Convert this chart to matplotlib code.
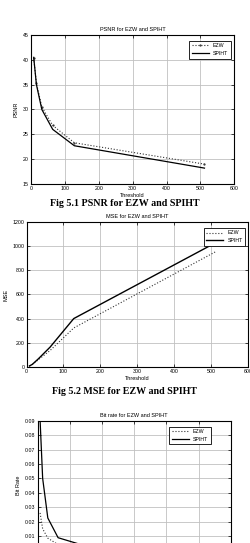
import matplotlib
matplotlib.use('Agg')
import matplotlib.pyplot as plt

plt.rcParams['font.family'] = ['Liberation Sans', 'DejaVu Sans']

W, H = 250, 543

thresholds = [8, 16, 32, 64, 128, 512]
psnr_ezw = [40.3, 35.3, 30.5, 26.8, 23.3, 19.0]
psnr_spiht = [40.5, 35.0, 30.0, 26.0, 22.7, 18.2]
mse_ezw = [6, 19, 58, 135, 322, 955]
mse_spiht = [6, 20, 65, 163, 400, 1030]
rate_ezw = [0.026, 0.015, 0.0085, 0.004, 0.002, 0.0005]
rate_spiht = [0.0905, 0.050, 0.0225, 0.0088, 0.0045, 0.0012]

x_ticks = [0, 100, 200, 300, 400, 500, 600]
psnr_ticks = [15, 20, 25, 30, 35, 40, 45]
mse_ticks = [0, 200, 400, 600, 800, 1000, 1200]
rate_ticks = [0, 0.01, 0.02, 0.03, 0.04, 0.05, 0.06, 0.07, 0.08, 0.09]
rate_labels = ['0'] + ['%.2f' % v for v in rate_ticks[1:]]


def px_axes(fig, left, top, right, bottom):
    # pixel box -> figure fraction
    return fig.add_axes([left / W, 1 - bottom / H, (right - left) / W, (bottom - top) / H])


def style(ax, title, ylabel, yticks, ylim, ylabels=None):
    ax.set_xlim(0, 600)
    ax.set_ylim(*ylim)
    ax.set_xticks(x_ticks)
    ax.set_yticks(yticks)
    if ylabels:
        ax.set_yticklabels(ylabels)
    ax.grid(True, color='#c0c0c0', lw=0.6)
    ax.tick_params(direction='in', top=True, right=True, labelsize=3.8,
                   length=2, width=0.5, pad=1.5)
    for s in ax.spines.values():
        s.set_linewidth(0.8)
    ax.set_title(title, fontsize=4, pad=3)
    ax.set_ylabel(ylabel, fontsize=4, labelpad=3)
    ax.set_xlabel('Threshold', fontsize=4, labelpad=1.5)


def add_legend(ax, anchor):
    leg = ax.legend(fontsize=3.8, loc='upper right', bbox_to_anchor=anchor,
                    handlelength=3.2, fancybox=False, framealpha=1,
                    borderpad=0.5, labelspacing=0.5, handletextpad=0.8)
    leg.get_frame().set_edgecolor('black')
    leg.get_frame().set_linewidth(0.6)


fig = plt.figure(figsize=(W / 100, H / 100), dpi=100)

# Fig 5.1 PSNR
ax1 = px_axes(fig, 31, 35, 234.3, 184)
ax1.plot(thresholds, psnr_ezw, ':', color='#333333', lw=0.8, marker='.', ms=1.2, label='EZW')
ax1.plot(thresholds, psnr_spiht, '-', color='black', lw=0.9, label='SPIHT')
style(ax1, 'PSNR for EZW and SPIHT', 'PSNR', psnr_ticks, (15, 45))
add_legend(ax1, (0.995, 0.98))
fig.text(0.5, 1 - 204 / H, 'Fig 5.1 PSNR for EZW and SPIHT', ha='center', va='center',
         family='Liberation Serif', weight='bold', fontsize=7.2)

# Fig 5.2 MSE
ax2 = px_axes(fig, 26.5, 222.3, 248, 366.7)
ax2.plot(thresholds, mse_ezw, ':', color='#333333', lw=0.8, label='EZW')
ax2.plot(thresholds, mse_spiht, '-', color='black', lw=1.0, label='SPIHT')
style(ax2, 'MSE for EZW and SPIHT', 'MSE', mse_ticks, (0, 1200))
add_legend(ax2, (1.0, 0.98))
fig.text(0.5, 1 - 391 / H, 'Fig 5.2 MSE for EZW and SPIHT', ha='center', va='center',
         family='Liberation Serif', weight='bold', fontsize=7.2)

# Bit rate (cut off at bottom of page)
ax3 = px_axes(fig, 37.5, 420.7, 230.7, 550.4)
ax3.plot(thresholds, rate_ezw, ':', color='#333333', lw=0.8, label='EZW')
ax3.plot(thresholds, rate_spiht, '-', color='black', lw=0.9, label='SPIHT')
style(ax3, 'Bit rate for EZW and SPIHT', 'Bit Rate', rate_ticks, (0, 0.09), rate_labels)
add_legend(ax3, (0.91, 0.975))

fig.savefig('out.png', dpi=100)
